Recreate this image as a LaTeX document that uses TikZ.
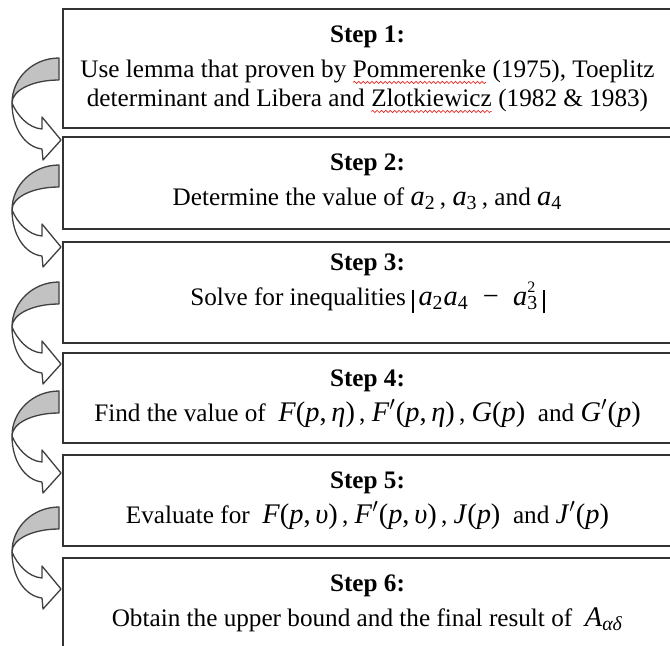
\documentclass[tikz,border=0pt]{standalone}
\usepackage{fontspec}
\setmainfont{Liberation Serif}
\usetikzlibrary{positioning, decorations.pathmorphing}

\definecolor{boxline}{gray}{0.2}
\definecolor{bandfill}{gray}{0.76}
\definecolor{bandline}{gray}{0.25}
\definecolor{spellred}{RGB}{225,40,40}

% italic variable and subscript, as in the equation objects
\newcommand\mv[1]{\textit{#1}}
\newcommand\sub[1]{\textsubscript{#1}}
% equation objects are set a little larger and looser
\newcommand\fm[1]{{\fontsize{14.2}{14.5}\selectfont #1}}
% tall bar of the absolute value
\newcommand\absbar{\raisebox{-4pt}{\rule{0.8pt}{11.5pt}}}
% wavy spell-check underline
\newcommand\spellmark[1]{\tikz[baseline=(sw.base)]{\node[inner sep=0pt, outer sep=0pt] (sw) {#1};
  \draw[spellred, line width=0.35pt, decorate, decoration={snake, amplitude=0.55pt, segment length=2.2pt}]
    ([yshift=-2.6pt]sw.base west) -- ([yshift=-2.6pt]sw.base east);}}

\tikzset{
  stepbox/.style={draw=boxline, line width=0.85pt, minimum width=304.5pt, inner sep=0pt},
  steptext/.style={align=center, inner sep=0pt, font=\fontsize{12.6}{14.5}\selectfont},
  bandback/.style={fill=bandfill, draw=bandline, line width=0.65pt, line join=round},
  bandfront/.style={fill=white, draw=bandline, line width=0.65pt, line join=round}
}

\begin{document}
\begin{tikzpicture}[x=0.5pt, y=-0.5pt]
    \useasboundingbox (0,0) rectangle (670,645);
    \fill[white] (0,0) rectangle (670,645);
    \clip (0,0) rectangle (670,645);

    % the six steps
    \node[stepbox, minimum height=59.5pt] (s1) at (367.5,68.5) {};
    \node[stepbox, minimum height=46pt] (s2) at (367.5,183) {};
    \node[stepbox, minimum height=50.5pt] (s3) at (367.5,292.5) {};
    \node[stepbox, minimum height=45pt] (s4) at (367.5,398) {};
    \node[stepbox, minimum height=45.5pt] (s5) at (367.5,500.5) {};
    \node[stepbox, minimum height=48.5pt] (s6) at (367.5,606.5) {};

    \node[steptext, below=8.5pt of s1.north] (t1) {\textbf{Step 1:}\\[3pt]
      Use lemma that proven by \spellmark{Pommerenke} (1975), Toeplitz\\
      determinant and Libera and \spellmark{Zlotkiewicz} (1982 \& 1983)};
    \node[steptext, below=8.5pt of s2.north] (t2) {\textbf{Step 2:}\\[3pt]
      Determine the value of \fm{\mv{a}\sub{2}}\,, \fm{\mv{a}\sub{3}}\,, and \fm{\mv{a}\sub{4}}};
    \node[steptext, below=6pt of s3.north] (t3) {\textbf{Step 3:}\\[3pt]
      Solve for inequalities \fm{\absbar\,\mv{a}\sub{2}\mv{a}\sub{4} \ − \ \mv{a}\rlap{\raisebox{6.5pt}{\fontsize{8}{8}\selectfont 2}}\sub{3}\,\absbar}};
    \node[steptext, below=8.5pt of s4.north] (t4) {\textbf{Step 4:}\\[3pt]
      Find the value of \ \fm{\mv{F}(\mv{p},\,\mv{η})}\,, \fm{\mv{F}$'$(\mv{p},\,\mv{η})}\,, \fm{\mv{G}(\mv{p})} \ and \fm{\mv{G}$'$(\mv{p})}};
    \node[steptext, below=8.5pt of s5.north] (t5) {\textbf{Step 5:}\\[3pt]
      Evaluate for \ \fm{\mv{F}(\mv{p},\,\mv{υ})}\,, \fm{\mv{F}$'$(\mv{p},\,\mv{υ})}\,, \fm{\mv{J}(\mv{p})} \ and \fm{\mv{J}$'$(\mv{p})}};
    \node[steptext, below=8.5pt of s6.north] (t6) {\textbf{Step 6:}\\[3pt]
      Obtain the upper bound and the final result of \ \fm{\mv{A}\sub{\mv{αδ}}}};

    % twisted curved arrows, one per step change (\ly = leftmost point)
    \foreach \ly in {103,210,327,436,552} {
      \filldraw[bandback] (59,\ly-45) -- (59,\ly-23)
        .. controls (33,\ly-23) and (12,\ly-13) .. (12,\ly)
        .. controls (12,\ly-25) and (33,\ly-45) .. (59,\ly-45) -- cycle;
      \filldraw[bandfront] (12,\ly)
        .. controls (17,\ly+12) and (28,\ly+25) .. (42,\ly+26)
        -- (42,\ly+14) -- (61,\ly+37) -- (43,\ly+57) -- (42,\ly+46)
        .. controls (25,\ly+44) and (12,\ly+25) .. (12,\ly) -- cycle;
    }
\end{tikzpicture}
\end{document}
